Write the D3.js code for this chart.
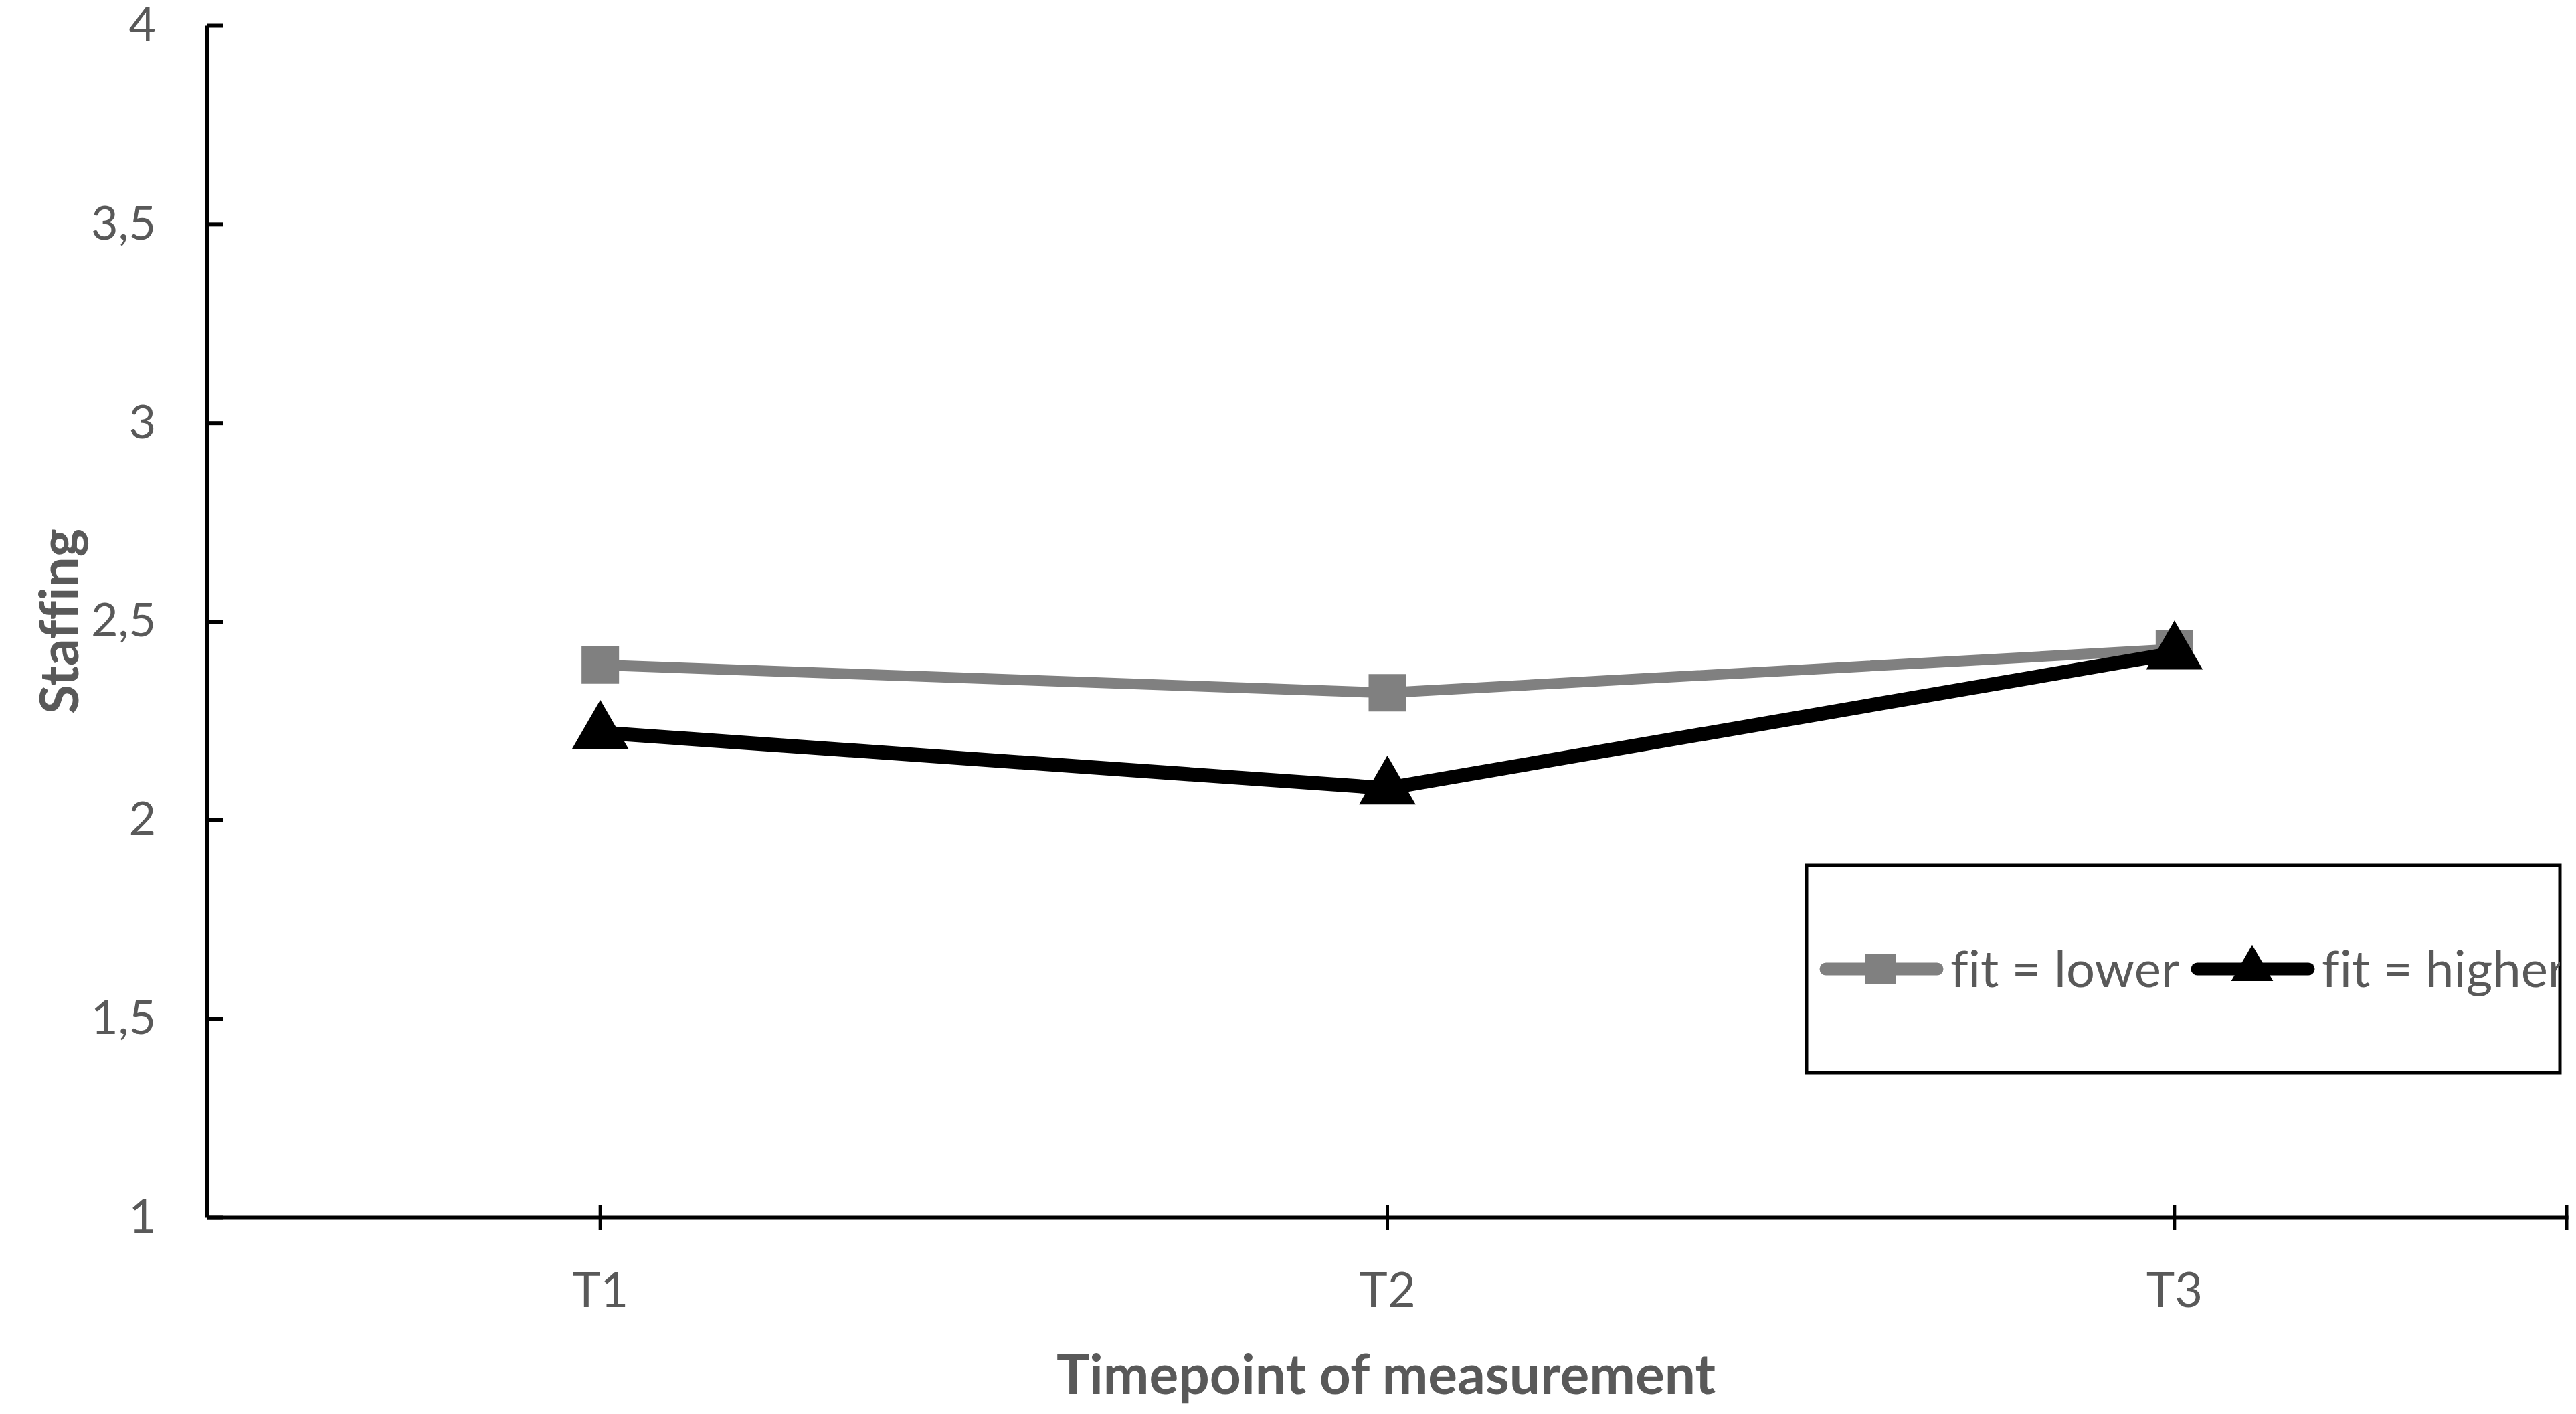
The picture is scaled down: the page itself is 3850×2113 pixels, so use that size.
<!DOCTYPE html>
<html>
<head>
<meta charset="utf-8">
<script src="https://cdn.jsdelivr.net/npm/d3@7"></script>
<style>
body { margin: 0; background: #fff; }
text { font-family: Lato, "Open Sans", sans-serif; font-variant-ligatures: none; }
</style>
</head>
<body>
<div id="chart-area"></div>
<script>
var timepoints = ["T1", "T2", "T3"];
var fitLower = [2.39, 2.32, 2.43];
var fitHigher = [2.22, 2.08, 2.42];
var yTicks = [1, 1.5, 2, 2.5, 3, 3.5, 4];
var seriesNames = ["fit = lower", "fit = higher"];

var W = 3850, H = 2113;
var margin = { left: 309, right: 12, top: 38, bottom: 294 };
var width = W - margin.left - margin.right,
    height = H - margin.top - margin.bottom;

var svg = d3.select("#chart-area")
    .append("svg")
        .attr("width", W)
        .attr("height", H);

var g = svg.append("g")
    .attr("transform", "translate(" + margin.left + ", " + margin.top + ")");

var xScale = d3.scaleBand()
    .domain(timepoints)
    .range([0, width]);

var yScale = d3.scaleLinear()
    .domain([1, 4])
    .range([height, 0]);

function cx(d) { return xScale(d) + xScale.bandwidth() / 2; }

// y axis, ticks pointing inward
var yAxisCall = d3.axisLeft(yScale)
    .tickValues(yTicks)
    .tickSizeInner(-24)
    .tickSizeOuter(0)
    .tickPadding(76)
    .tickFormat(function(d){ return String(d).replace(".", ","); });

var yAxis = g.append("g")
    .attr("class", "y-axis")
    .call(yAxisCall);
yAxis.select(".domain").attr("stroke", "#000").attr("stroke-width", 6);
yAxis.selectAll(".tick line").attr("stroke", "#000").attr("stroke-width", 6);
yAxis.selectAll("text")
    .attr("font-size", "70px")
    .attr("fill", "#595959");

// x axis, ticks crossing the line
var xAxisCall = d3.axisBottom(xScale)
    .tickSizeInner(19)
    .tickSizeOuter(0)
    .tickPadding(64);

var xAxis = g.append("g")
    .attr("class", "x-axis")
    .attr("transform", "translate(0, " + height + ")")
    .call(xAxisCall);
xAxis.select(".domain").attr("stroke", "#000").attr("stroke-width", 6);
xAxis.selectAll(".tick line")
    .attr("y1", -19)
    .attr("stroke", "#000").attr("stroke-width", 5);
xAxis.selectAll("text")
    .attr("font-size", "72px")
    .attr("fill", "#595959");

// tick at right end of category axis
xAxis.append("line")
    .attr("x1", xScale.range()[1] - 2)
    .attr("x2", xScale.range()[1] - 2)
    .attr("y1", -19)
    .attr("y2", 19)
    .attr("stroke", "#000")
    .attr("stroke-width", 5);

// axis titles
g.append("text")
    .attr("x", width / 2 - 2)
    .attr("y", height + 264)
    .attr("font-size", "82px")
    .attr("font-weight", "bold")
    .attr("fill", "#595959")
    .attr("text-anchor", "middle")
    .text("Timepoint of measurement");

g.append("text")
    .attr("transform", "translate(" + (-192) + ", " + (height / 2) + ") rotate(-90)")
    .attr("font-size", "80px")
    .attr("font-weight", "bold")
    .attr("fill", "#595959")
    .attr("text-anchor", "middle")
    .text("Staffing");

// series
var line = d3.line()
    .x(function(d, i){ return cx(timepoints[i]); })
    .y(function(d){ return yScale(d); });

var series = [
    { name: seriesNames[0], values: fitLower, color: "#808080", width: 16,
      symbol: d3.symbolSquare, size: 56 * 56 },
    { name: seriesNames[1], values: fitHigher, color: "#000000", width: 21,
      symbol: d3.symbolTriangle, size: 3100 }
];

series.forEach(function(s){
    g.append("path")
        .attr("d", line(s.values))
        .attr("fill", "none")
        .attr("stroke", s.color)
        .attr("stroke-width", s.width)
        .attr("stroke-linejoin", "round");

    g.selectAll(null)
        .data(s.values)
        .enter()
        .append("path")
            .attr("d", d3.symbol().type(s.symbol).size(s.size))
            .attr("transform", function(d, i){
                return "translate(" + cx(timepoints[i]) + ", " + yScale(d) + ")";
            })
            .attr("fill", s.color);
});

// legend
var lg = svg.append("g").attr("class", "legend");
var lx = 2700, ly = 1293, lw = 1126, lh = 310;

svg.append("clipPath")
    .attr("id", "legend-clip")
    .append("rect")
        .attr("x", lx).attr("y", ly)
        .attr("width", lw).attr("height", lh);

lg.append("rect")
    .attr("x", lx).attr("y", ly)
    .attr("width", lw).attr("height", lh)
    .attr("fill", "#fff")
    .attr("stroke", "#000")
    .attr("stroke-width", 5);

var items = lg.append("g").attr("clip-path", "url(#legend-clip)");
var itemX = [2719, 3274];
var legendY = 1448;

series.forEach(function(s, i){
    var x0 = itemX[i];
    items.append("line")
        .attr("x1", x0 + 10).attr("x2", x0 + 176)
        .attr("y1", legendY).attr("y2", legendY)
        .attr("stroke", s.color)
        .attr("stroke-width", 19)
        .attr("stroke-linecap", "round");
    items.append("path")
        .attr("d", d3.symbol().type(s.symbol).size(i === 0 ? 46 * 46 : 1700))
        .attr("transform", "translate(" + (x0 + 92) + ", " + legendY + ")")
        .attr("fill", s.color);
    items.append("text")
        .attr("x", x0 + 196)
        .attr("y", legendY)
        .attr("dy", "0.35em")
        .attr("font-size", "76px")
        .attr("fill", "#595959")
        .text(s.name);
});
</script>
</body>
</html>
